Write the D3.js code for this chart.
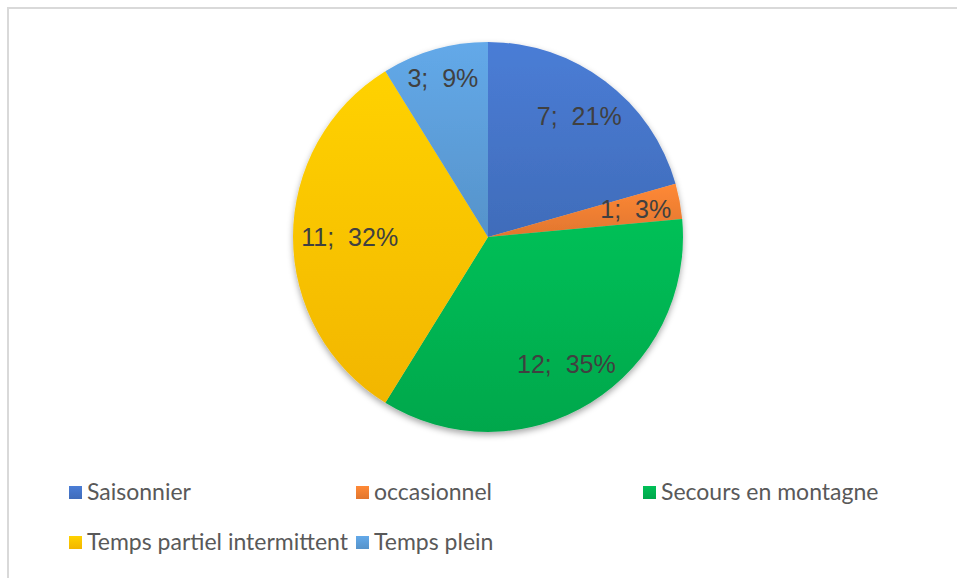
<!DOCTYPE html>
<html>
<head>
<meta charset="utf-8">
<script src="https://cdn.jsdelivr.net/npm/d3@7"></script>
<style>
  body { margin: 0; background: #fff; }
  text.lbl { white-space: pre; }
</style>
</head>
<body>
<script>
var categories = ["Saisonnier", "occasionnel", "Secours en montagne", "Temps partiel intermittent", "Temps plein"];
var values = [7, 1, 12, 11, 3];
var colors = ["#4472C4", "#ED7D31", "#00B050", "#FFC000", "#5B9BD5"];

var W = 957, H = 578;
var cx = 488, cy = 237, R = 195;

var svg = d3.select('body').append('svg')
    .attr('width', W)
    .attr('height', H);

// chart frame (runs past the right / bottom edge like the screenshot)
svg.append('rect')
    .attr('x', 8).attr('y', 8)
    .attr('width', 1000).attr('height', 700)
    .attr('fill', 'white')
    .attr('stroke', '#d9d9d9')
    .attr('stroke-width', 2);

var defs = svg.append('defs');

var shadow = defs.append('filter').attr('id', 'shadow')
    .attr('x', '-20%').attr('y', '-20%').attr('width', '140%').attr('height', '140%');
shadow.append('feDropShadow')
    .attr('dx', 0).attr('dy', 3)
    .attr('stdDeviation', 3)
    .attr('flood-color', '#000')
    .attr('flood-opacity', 0.35);

colors.forEach(function(c, i) {
    var g = defs.append('linearGradient').attr('id', 'grad' + i)
        .attr('x1', 0).attr('y1', 0).attr('x2', 0).attr('y2', 1);
    g.append('stop').attr('offset', '0%').attr('stop-color', d3.color(c).brighter(0.25));
    g.append('stop').attr('offset', '100%').attr('stop-color', d3.color(c).darker(0.15));
});

var total = d3.sum(values);
var pie = d3.pie().sort(null).value(function(d) { return d; });
var arcs = pie(values);
var arc = d3.arc().innerRadius(0).outerRadius(R);

var g = svg.append('g').attr('transform', 'translate(' + cx + ',' + cy + ')');

g.append('g').attr('filter', 'url(#shadow)')
  .selectAll('path')
    .data(arcs)
    .enter().append('path')
    .attr('d', arc)
    .attr('fill', function(d, i) { return 'url(#grad' + i + ')'; });

// data labels, pushed out toward the rim as far as they fit
var labels = g.selectAll('text.lbl')
    .data(arcs)
    .enter().append('text')
    .attr('class', 'lbl')
    .attr('xml:space', 'preserve')
    .attr('font-family', 'Liberation Sans, Arial, sans-serif')
    .attr('font-size', 25)
    .attr('fill', '#404040')
    .attr('text-anchor', 'middle')
    .text(function(d) { return d.value + ';  ' + Math.round(d.value / total * 100) + '%'; });

labels.each(function(d) {
    var w = this.getComputedTextLength();
    var h = 20;
    var a = (d.startAngle + d.endAngle) / 2;
    var ux = Math.sin(a), uy = -Math.cos(a);
    var c1 = (ux >= 0 ? 1 : -1) * w / 2, c2 = (uy >= 0 ? 1 : -1) * h / 2;
    var uc = ux * c1 + uy * c2;
    var lim = R - 8;
    var dist = -uc + Math.sqrt(uc * uc - (c1 * c1 + c2 * c2) + lim * lim);
    d3.select(this)
        .attr('x', ux * dist)
        .attr('y', uy * dist + 9);
});

// legend
var legX = d3.scaleLinear().domain([0, 2]).range([69, 643]);
var legend = svg.selectAll('g.leg')
    .data(categories)
    .enter().append('g')
    .attr('class', 'leg')
    .attr('transform', function(d, i) {
        return 'translate(' + legX(i % 3) + ',' + (486 + Math.floor(i / 3) * 50) + ')';
    });

legend.append('rect')
    .attr('width', 13).attr('height', 13)
    .attr('fill', function(d, i) { return 'url(#grad' + i + ')'; });

legend.append('text')
    .attr('x', 18).attr('y', 14)
    .attr('font-family', 'Lato, sans-serif')
    .attr('font-size', 23)
    .attr('fill', '#595959')
    .text(function(d) { return d; });
</script>
</body>
</html>
